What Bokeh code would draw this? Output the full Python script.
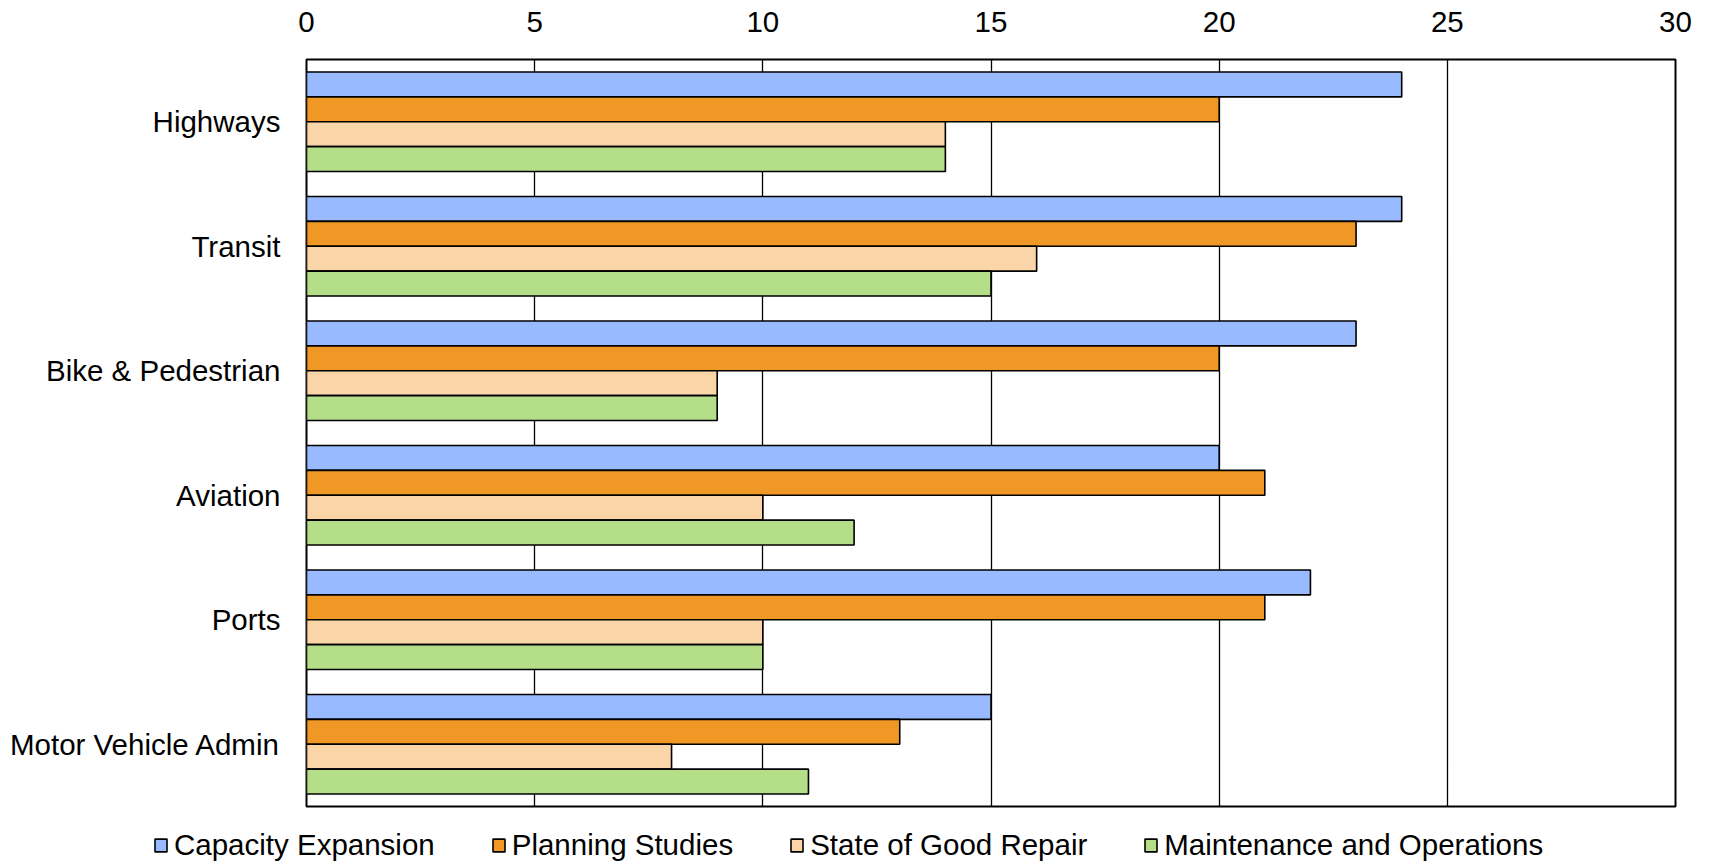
from bokeh.plotting import figure
from bokeh.layouts import column, row
from bokeh.models import FactorRange, Range1d, FixedTicker, Legend, LegendItem, ColumnDataSource
from bokeh.transform import dodge
from bokeh.embed import file_html
from bokeh.resources import INLINE

# Modes (top to bottom)
modes = ["Highways", "Transit", "Bike & Pedestrian", "Aviation", "Ports", "Motor Vehicle Admin"]

series_names = ["Capacity Expansion", "Planning Studies", "State of Good Repair", "Maintenance and Operations"]
capacity_expansion = [24, 24, 23, 20, 22, 15]
planning_studies = [20, 23, 20, 21, 21, 13]
state_of_good_repair = [14, 16, 9, 10, 10, 8]
maintenance_operations = [14, 15, 9, 12, 10, 11]

x_ticks = [0, 5, 10, 15, 20, 25, 30]

colors = ["#99BAFF", "#F09826", "#FAD5A8", "#B5DE88"]
offsets = [0.3, 0.1, -0.1, -0.3]

FONT = "Liberation Sans"
FS = "29.5px"

source = ColumnDataSource(dict(
    mode=modes,
    ce=capacity_expansion,
    ps=planning_studies,
    sgr=state_of_good_repair,
    mo=maintenance_operations,
))

p = figure(
    width=1710, height=816,
    y_range=FactorRange(*reversed(modes), range_padding=0),
    x_range=Range1d(0, 30),
    x_axis_location="above",
    output_backend="svg", toolbar_location=None,
    min_border_left=306, min_border_right=35,
    min_border_top=59, min_border_bottom=10,
)
p.background_fill_color = "white"
p.border_fill_color = "white"
p.outline_line_color = "black"
p.outline_line_width = 2

for col, color, off in zip(["ce", "ps", "sgr", "mo"], colors, offsets):
    p.hbar(
        y=dodge("mode", off, range=p.y_range), right=col, left=0, height=0.2,
        source=source, fill_color=color, line_color="black", line_width=1.6,
    )

# grid
p.ygrid.grid_line_color = None
p.xgrid.ticker = FixedTicker(ticks=x_ticks)
p.xgrid.grid_line_color = "black"
p.xgrid.grid_line_width = 1.3

# axes
p.xaxis.ticker = FixedTicker(ticks=x_ticks)
for ax in (p.xaxis[0], p.yaxis[0]):
    ax.axis_line_color = None
    ax.major_tick_line_color = None
    ax.minor_tick_line_color = None
    ax.major_label_text_font = FONT
    ax.major_label_text_font_size = FS
    ax.major_label_text_color = "black"
p.xaxis.major_label_standoff = 22
p.yaxis.major_label_standoff = 20

# legend strip below the chart
lg = figure(
    width=1710, height=46,
    x_range=Range1d(0, 1), y_range=Range1d(0, 1),
    x_axis_location=None, y_axis_location=None,
    output_backend="svg", toolbar_location=None,
    min_border=0,
)
lg.outline_line_color = None
lg.grid.grid_line_color = None
lg.background_fill_color = "white"
lg.border_fill_color = "white"

# swatch renderers with non-finite data: nothing is drawn, only legend icons
swatches = []
for color in colors:
    swatches.append(lg.hbar(y=[0.5], right=[float("nan")], left=[float("nan")], height=0.2,
                            fill_color=color, line_color="black", line_width=1.6))

legend = Legend(
    items=[LegendItem(label=n, renderers=[r]) for n, r in zip(series_names, swatches)],
    orientation="horizontal",
    location=(153, 0),
    label_text_font=FONT, label_text_font_size=FS, label_text_color="black",
    glyph_width=15, glyph_height=16, label_standoff=6, spacing=56,
    padding=0, margin=0,
    border_line_color=None, background_fill_alpha=0,
)
lg.add_layout(legend, "center")

layout = column(p, row(lg), spacing=0)
open("out.html", "w").write(file_html(layout, INLINE))
